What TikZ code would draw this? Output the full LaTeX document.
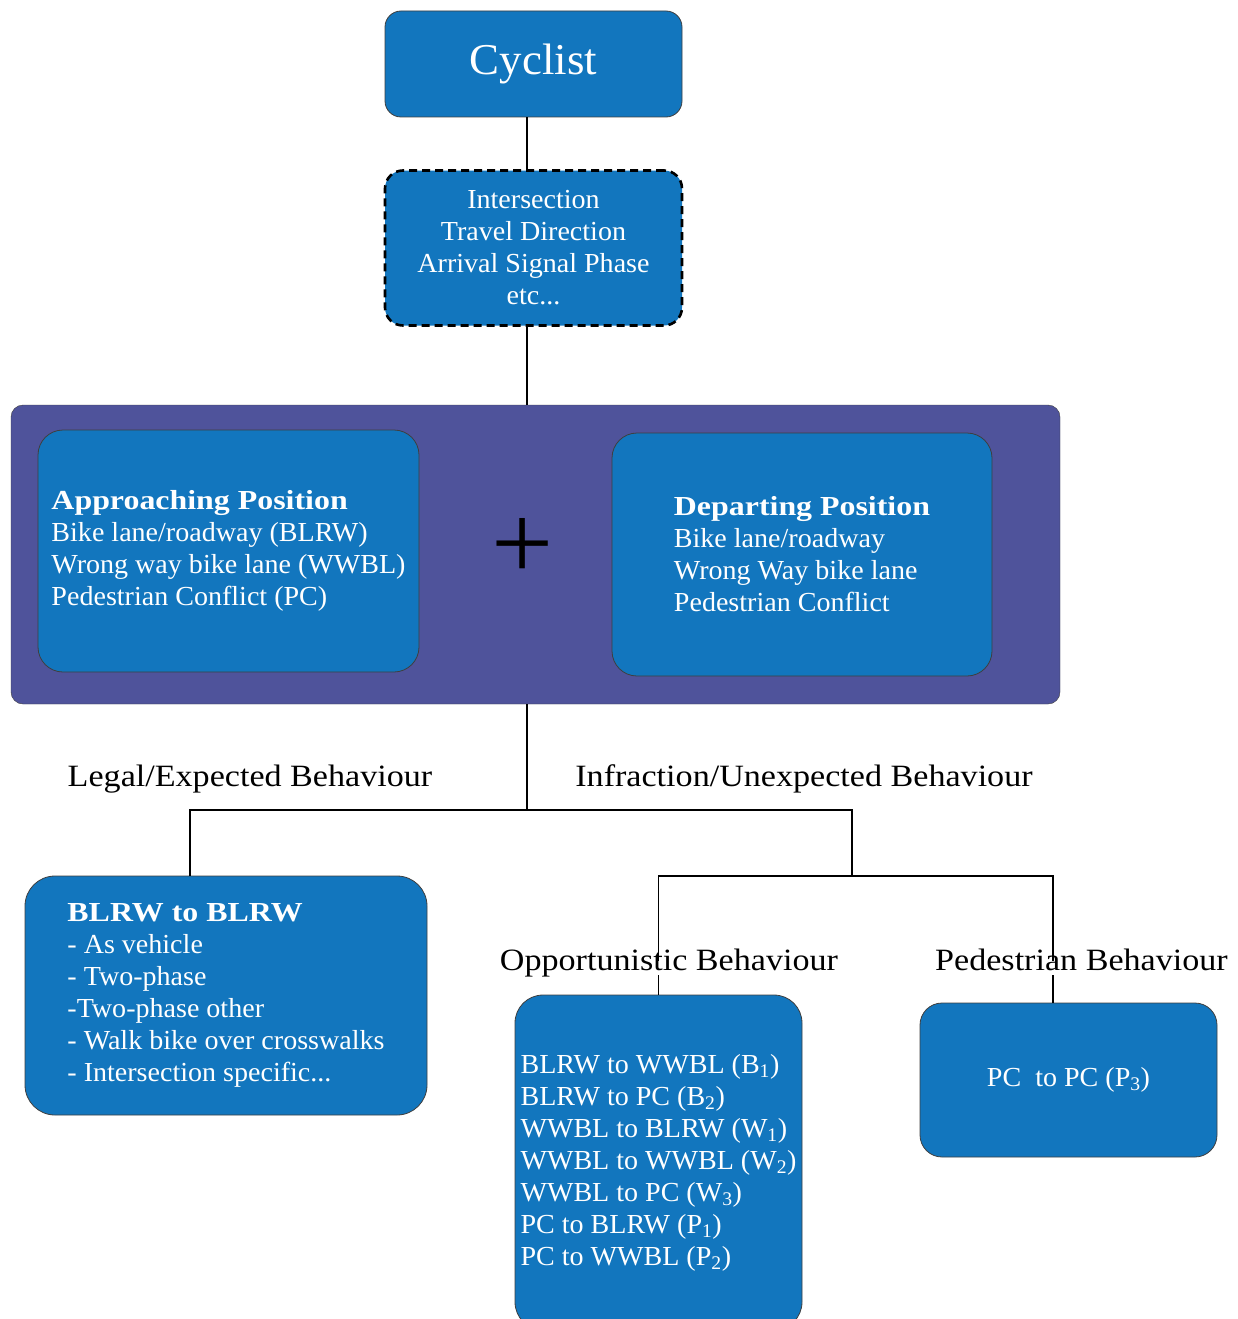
\documentclass[tikz,border=0pt]{standalone}
\usepackage{fontspec}
\setmainfont{Liberation Serif}[FakeStretch=1.02,
  BoldFeatures={FakeStretch=1.16}]
\newfontfamily\lblfont{Liberation Serif}[FakeStretch=1.1]
\usepackage{tikz}
\usetikzlibrary{positioning}
\definecolor{boxblue}{HTML}{1276BE}
\definecolor{bandpurple}{HTML}{4F539B}
\definecolor{edgegrey}{HTML}{3F3F3F}

\begin{document}
\begin{tikzpicture}[x=1pt, y=-1pt]
  \tikzstyle{bx}=[draw=edgegrey, line width=0.8pt, fill=boxblue,
    text=white, align=left, font=\fontsize{27.5}{32}\selectfont]
  \tikzstyle{lbl}=[fill=white, inner xsep=3pt, inner ysep=2pt, anchor=base,
    text height=0.75em, text depth=0.25em,
    font=\lblfont\fontsize{31}{34}\selectfont]
  \tikzstyle{wire}=[line width=1.6pt]

  \useasboundingbox (0,0) rectangle (1237,1319);

  \node[bx, align=center, rounded corners=16, minimum width=297,
    minimum height=106, font=\fontsize{44}{50}\selectfont]
    (cyc) at (533.5,64) {Cyclist};
  \node[bx, align=center, draw=black, line width=2.6pt,
    dash pattern=on 8pt off 5pt, rounded corners=18,
    minimum width=297, minimum height=155]
    (det) at (533.5,248)
    {Intersection\\Travel Direction\\Arrival Signal Phase\\etc...};

  % position band
  \node[draw=edgegrey, fill=bandpurple, rounded corners=12,
    minimum width=1049, minimum height=299] (pos) at (535.5,554.5) {};
  \node[bx, rounded corners=25, minimum width=381, minimum height=242]
    (appr) at (228.5,551)
    {\textbf{Approaching Position}\\Bike lane/roadway (BLRW)\\
     Wrong way bike lane (WWBL)\\Pedestrian Conflict (PC)};
  \node[font=\fontsize{108}{108}\selectfont] (plus) at (523,549) {+};
  \node[bx, rounded corners=25, minimum width=380, minimum height=243]
    (dep) at (802,554.5)
    {\textbf{Departing Position}\\Bike lane/roadway\\
     Wrong Way bike lane\\Pedestrian Conflict};

  % behaviour boxes
  \node[bx, rounded corners=30, minimum width=402, minimum height=239]
    (blrw) at (226,995.5)
    {\textbf{BLRW to BLRW}\\- As vehicle\\- Two-phase\\-Two-phase other\\
     - Walk bike over crosswalks\\- Intersection specific...};
  \node[bx, rounded corners=28, minimum width=287, minimum height=335]
    (opp) at (658.5,1162.5)
    {BLRW to WWBL (B\textsubscript{1})\\BLRW to PC (B\textsubscript{2})\\
     WWBL to BLRW (W\textsubscript{1})\\WWBL to WWBL (W\textsubscript{2})\\
     WWBL to PC (W\textsubscript{3})\\PC to BLRW (P\textsubscript{1})\\
     PC to WWBL (P\textsubscript{2})};
  \node[bx, rounded corners=22, minimum width=297, minimum height=154]
    (ped) at (1068.5,1080) {PC\ \ to PC (P\textsubscript{3})};

  \coordinate (spine) at (527,0);
  \coordinate (fork) at (527,810);
  \coordinate (legal) at (190,810);
  \coordinate (infr) at (852,810);
  \coordinate (split) at (852,876);
  \coordinate (pedx) at (1053,876);

  \draw[wire] (cyc.south -| spine) -- (det.north -| spine);
  \draw[wire] (det.south -| spine) -- (pos.north -| spine);
  \draw[wire] (pos.south -| spine) -- (fork);
  \draw[wire] (blrw.north -| legal) -- (legal) -- (infr) -- (split);
  \draw[wire] (opp.north) |- (split) -- (pedx) -- (ped.north -| pedx);

  \node[lbl] (legalT) at (250,786) {Legal/Expected Behaviour};
  \node[lbl] (infrT) at (804,786) {Infraction/Unexpected Behaviour};
  \node[lbl] (oppT) at (669,970) {Opportunistic Behaviour};
  \node[lbl] (pedT) at (1081.5,970) {Pedestrian Behaviour};
\end{tikzpicture}
\end{document}
